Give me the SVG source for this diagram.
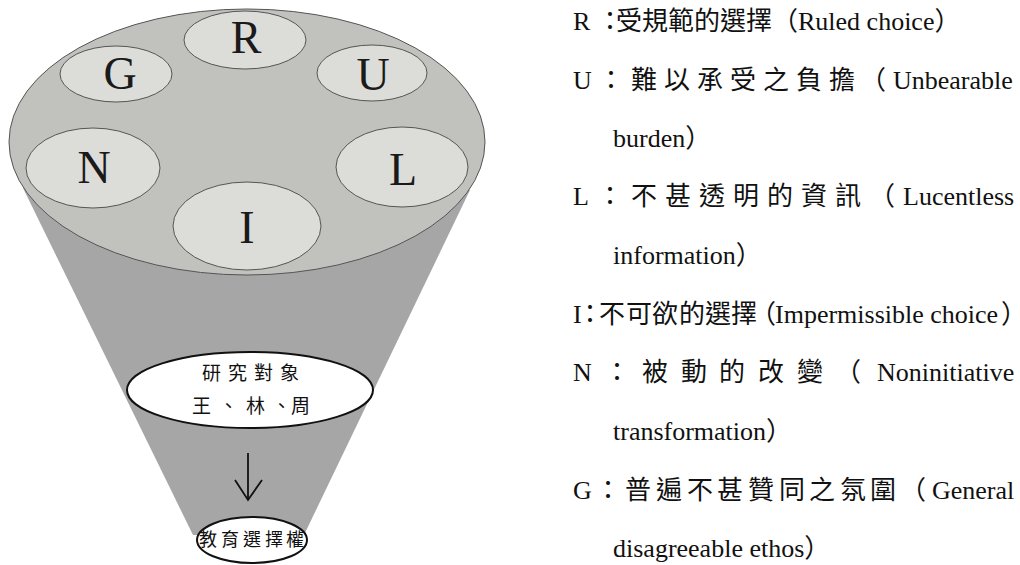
<svg xmlns="http://www.w3.org/2000/svg" width="1020" height="565" viewBox="0 0 1020 565">
<defs>
<style>
.letter{font-family:"Liberation Serif","Times New Roman",serif;font-size:46px;fill:#1a1a1a;text-anchor:middle}
.sm{fill:#dcddd9;stroke:#555;stroke-width:1}
.cjk{font-family:"Noto Sans CJK TC","Noto Sans CJK SC",sans-serif;fill:#111}
.leg{font-family:"Liberation Serif","Noto Sans CJK TC",serif;font-size:26px;fill:#111}
.conn{stroke:#111;stroke-width:1.8;fill:none}
</style>
</defs>
<rect width="1020" height="565" fill="#ffffff"/>
<g id="cone">
<polygon points="23,188 470,190 304,535 193,535" fill="#a6a6a6"/>
</g>
<g id="disc">
<ellipse cx="247" cy="142" rx="238" ry="133" fill="#c1c2bd" stroke="#555" stroke-width="1"/>
</g>
<g id="node-R"><ellipse class="sm" cx="245" cy="40" rx="61" ry="29"/><text class="letter" x="246" y="53">R</text></g>
<g id="node-G"><ellipse class="sm" cx="116" cy="74" rx="56" ry="28"/><text class="letter" x="120" y="89">G</text></g>
<g id="node-U"><ellipse class="sm" cx="372" cy="73" rx="55" ry="28"/><text class="letter" x="373" y="90">U</text></g>
<g id="node-N"><ellipse class="sm" cx="93" cy="168" rx="67" ry="40"/><text class="letter" x="94" y="183">N</text></g>
<g id="node-L"><ellipse class="sm" cx="402" cy="167" rx="66" ry="40"/><text class="letter" x="403" y="185">L</text></g>
<g id="node-I"><ellipse class="sm" cx="247" cy="226" rx="74" ry="44"/><text class="letter" x="247" y="243">I</text></g>
<g id="node-subject">
<ellipse cx="250" cy="390" rx="123" ry="38" fill="#ffffff" stroke="#111" stroke-width="2"/>
<text class="cjk" font-size="19" x="202 228 254 280" y="380">研究對象</text>
<text class="cjk" font-size="19" x="192 219 246 272 291" y="413">王、林、周</text>
</g>
<g id="node-right">
<ellipse cx="252" cy="540" rx="55" ry="23" fill="#ffffff" stroke="#111" stroke-width="2"/>
<text class="cjk" font-size="18" x="199 221 243 265 286" y="546">教育選擇權</text>
</g>
<g id="connectors">
<line class="conn" x1="248" y1="453" x2="248" y2="500"/>
<polyline class="conn" points="235,480 248,500 262,480"/>
</g>
<g id="legend">
<text class="leg" x="573 597 616" y="30">R：受規範的選擇（Ruled choice）</text>
<text class="leg" x="573 598 631 664 697 730 763 796 829 860 893" y="89">U：難以承受之負擔（Unbearable</text>
<text class="leg" x="613" y="147">burden）</text>
<text class="leg" x="573 597 631 665 699 733 767 801 835 869 903" y="205">L：不甚透明的資訊（Lucentless</text>
<text class="leg" x="613" y="264">information）</text>
<text class="leg" y="323"><tspan x="573 577 599 626 652 679 705 731 750 775">I：不可欲的選擇（Impermissible choice</tspan><tspan x="1001" style="letter-spacing:-12px">）</tspan></text>
<text class="leg" x="573 604 642 681 719 758 797 835 877" y="381">N：被動的改變（Noninitiative</text>
<text class="leg" x="613" y="440">transformation）</text>
<text class="leg" x="573 595 625 656 687 717 748 779 809 840 870 900 932" y="499">G：普遍不甚贊同之氛圍（General</text>
<text class="leg" x="613" y="557">disagreeable ethos）</text>
</g>
</svg>
